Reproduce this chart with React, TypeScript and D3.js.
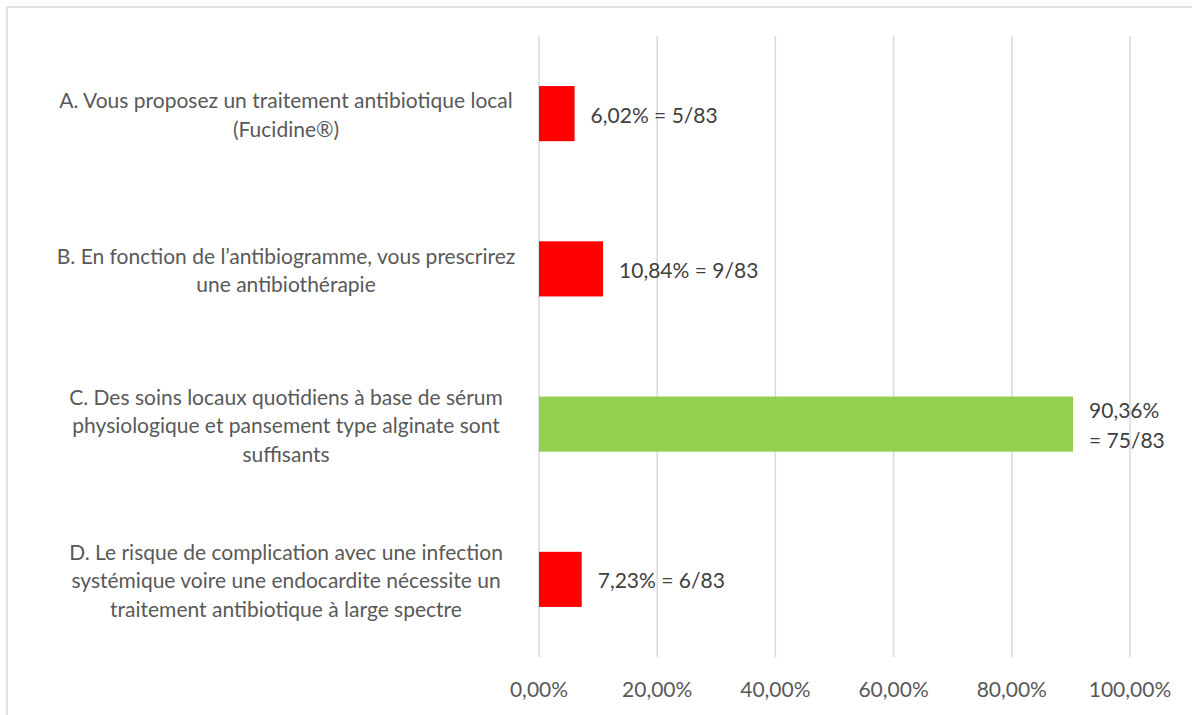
import * as d3 from "d3";

// chart data
const categories = ["A", "B", "C", "D"];
const labelLines = [
  ["A. Vous proposez un traitement antibiotique local", "(Fucidine®)"],
  ["B. En fonction de l’antibiogramme, vous prescrirez", "une antibiothérapie"],
  [
    "C. Des soins locaux quotidiens à base de sérum",
    "physiologique et pansement type alginate sont",
    "suffisants",
  ],
  [
    "D. Le risque de complication avec une infection",
    "systémique voire une endocardite nécessite un",
    "traitement antibiotique à large spectre",
  ],
];
const values = [0.0602, 0.1084, 0.9036, 0.0723];
const valueLabels = [
  ["6,02% = 5/83"],
  ["10,84% = 9/83"],
  ["90,36%", "= 75/83"],
  ["7,23% = 6/83"],
];
const correct = [false, false, true, false];
const ticks = [0, 0.2, 0.4, 0.6, 0.8, 1];

const W = 1192;
const H = 715;
const FONT = "Lato, 'Open Sans', sans-serif";

function App() {
  const margin = { top: 36, right: 62, bottom: 58, left: 539 };
  const innerW = W - margin.left - margin.right;
  const innerH = H - margin.top - margin.bottom;

  const x = d3.scaleLinear().domain([0, 1]).range([0, innerW]);
  const y = d3
    .scaleBand()
    .domain(categories)
    .range([0, innerH])
    .paddingInner(0.645)
    .paddingOuter(0.3225);

  const fmt = (v: number) => d3.format(".2f")(v * 100).replace(".", ",") + "%";
  const lineH = 28.5;

  return (
    <svg
      width={W}
      height={H}
      style={{ position: "absolute", left: 0, top: 0, background: "#fff" }}
      fontFamily={FONT}
    >
      {/* outer chart border, runs past the window */}
      <rect x={7} y={7} width={W + 20} height={H + 20} fill="none" stroke="#d9d9d9" strokeWidth={1.5} />
      <g transform={`translate(${margin.left},${margin.top})`}>
        {/* grid */}
        {ticks.map((t) => (
          <line key={t} x1={x(t)} x2={x(t)} y1={0} y2={innerH} stroke="#d9d9d9" strokeWidth={1.5} />
        ))}
        {/* tick labels */}
        {ticks.map((t) => (
          <text
            key={"t" + t}
            x={x(t)}
            y={innerH + 40}
            textAnchor="middle"
            fontSize={21}
            fill="#595959"
          >
            {fmt(t)}
          </text>
        ))}
        {/* bars */}
        {categories.map((c, i) => (
          <rect
            key={c}
            x={x(0)}
            y={y(c)}
            width={x(values[i]) - x(0)}
            height={y.bandwidth()}
            fill={correct[i] ? "#92D050" : "#FF0000"}
          />
        ))}
        {/* value labels */}
        {categories.map((c, i) => {
          const cy = (y(c) as number) + y.bandwidth() / 2;
          const lines = valueLabels[i];
          const y0 = cy - ((lines.length - 1) * 30) / 2;
          return (
            <text key={"v" + c} fontSize={21} fill="#404040" dominantBaseline="central">
              {lines.map((l, j) => (
                <tspan key={j} x={x(values[i]) + 16} y={y0 + j * 30}>
                  {l}
                </tspan>
              ))}
            </text>
          );
        })}
        {/* category labels */}
        {categories.map((c, i) => {
          const cy = (y(c) as number) + y.bandwidth() / 2;
          const lines = labelLines[i];
          const y0 = cy - ((lines.length - 1) * lineH) / 2;
          return (
            <text key={"c" + c} fontSize={21} fill="#595959" textAnchor="middle" dominantBaseline="central">
              {lines.map((l, j) => (
                <tspan key={j} x={-253} y={y0 + j * lineH}>
                  {l}
                </tspan>
              ))}
            </text>
          );
        })}
      </g>
    </svg>
  );
}

export default App;
